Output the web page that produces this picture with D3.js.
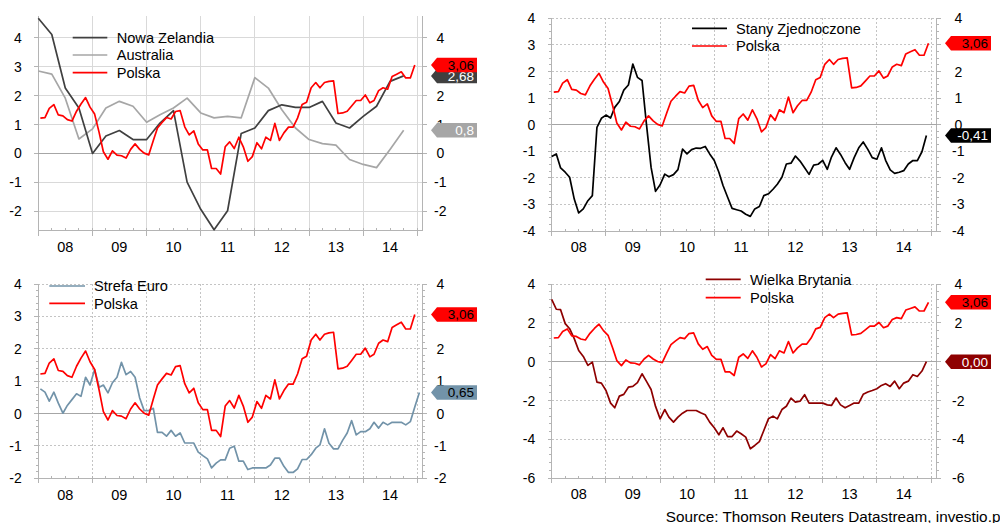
<!DOCTYPE html>
<html>
<head>
<meta charset="utf-8">
<script src="https://cdn.jsdelivr.net/npm/d3@7"></script>
<style>
  html, body { margin: 0; padding: 0; background: #fff; overflow: hidden; }
  svg { display: block; font-family: "Liberation Sans", Arial, sans-serif; }
</style>
</head>
<body>
<svg id="chart" width="1000" height="523"></svg>
<script>
// Year tick labels on every panel
const yearLabels = ["08", "09", "10", "11", "12", "13", "14"];

// Real interest rates, % (monthly, Jan 2008 – Dec 2014)
const polska = [
  1.22, 1.24, 1.56, 1.69, 1.33, 1.30, 1.17, 1.12, 1.46, 1.71, 1.93, 1.60,
  1.36, 0.71, 0.06, -0.20, 0.09, -0.06, -0.08, -0.16, 0.14, 0.33, 0.14, 0.01,
  -0.05, 0.45, 0.88, 1.07, 1.24, 1.19, 1.45, 1.48, 0.92, 0.64, 0.78, 0.33,
  0.12, 0.12, -0.52, -0.52, -0.71, 0.23, 0.40, 0.17, 0.56, 0.23, -0.27, -0.11,
  0.37, 0.16, 0.56, 0.45, 1.04, 0.45, 0.71, 0.91, 0.91, 1.22, 1.69, 1.77,
  2.27, 2.45, 2.27, 2.45, 2.49, 2.51, 1.38, 1.40, 1.46, 1.64, 1.83, 1.83,
  2.02, 1.75, 1.83, 2.17, 2.27, 2.22, 2.66, 2.74, 2.82, 2.61, 2.61, 3.06
];

// Quarterly series (Q1 2008 – Q4 2014)
const nowaZelandia = [
  4.67, 4.11, 2.26, 1.57, 0.00, 0.60, 0.79, 0.48, 0.48, 1.05, 1.48, -0.99,
  -1.93, -2.64, -1.98, 0.69, 0.88, 1.48, 1.68, 1.59, 1.59, 1.80, 1.05, 0.88,
  1.28, 1.63, 2.49, 2.68
];
const australia = [
  2.85, 2.74, 1.91, 0.50, 0.85, 1.57, 1.80, 1.63, 1.08, 1.34, 1.57, 1.91,
  1.40, 1.23, 1.28, 1.23, 2.62, 2.26, 1.51, 0.88, 0.48, 0.34, 0.29, -0.21,
  -0.38, -0.49, 0.14, 0.80
];

// Monthly series
const stanyZjednoczone = [
  -1.20, -1.10, -1.63, -1.79, -1.98, -2.80, -3.32, -3.17, -2.86, -2.67, -0.10, 0.24,
  0.36, 0.25, 0.65, 0.87, 1.30, 1.49, 2.28, 1.78, 1.66, 0.00, -1.61, -2.51,
  -2.26, -1.86, -1.96, -1.88, -1.69, -0.92, -1.10, -0.94, -0.88, -0.89, -0.82, -1.10,
  -1.35, -1.79, -2.29, -2.73, -3.15, -3.20, -3.25, -3.37, -3.45, -3.17, -3.08, -2.67,
  -2.60, -2.43, -2.24, -1.98, -1.48, -1.45, -1.18, -1.37, -1.62, -1.87, -1.52, -1.49,
  -1.34, -1.68, -1.22, -0.87, -1.12, -1.43, -1.68, -1.24, -0.87, -0.65, -0.93, -1.24,
  -1.30, -0.87, -1.34, -1.70, -1.83, -1.79, -1.73, -1.48, -1.35, -1.35, -1.02, -0.41
];
const strefaEuro = [
  0.76, 0.66, 0.38, 0.66, 0.32, 0.01, 0.25, 0.43, 0.61, 0.53, 1.12, 0.88,
  1.36, 0.81, 0.88, 0.64, 0.95, 1.12, 1.58, 1.20, 1.30, 1.12, 0.48, 0.09,
  0.09, 0.16, -0.58, -0.58, -0.70, -0.52, -0.70, -0.60, -0.91, -0.91, -0.91, -1.19,
  -1.30, -1.40, -1.68, -1.53, -1.43, -1.43, -1.07, -1.01, -1.47, -1.47, -1.73, -1.68,
  -1.68, -1.68, -1.68, -1.59, -1.38, -1.38, -1.63, -1.82, -1.82, -1.71, -1.42, -1.42,
  -1.27, -1.07, -0.97, -0.47, -0.92, -1.09, -1.09, -0.83, -0.60, -0.22, -0.66, -0.56,
  -0.56, -0.47, -0.27, -0.45, -0.27, -0.35, -0.27, -0.27, -0.27, -0.35, -0.25, 0.20,
  0.65
];
const wielkaBrytania = [
  3.21, 2.70, 2.68, 1.96, 1.70, 1.19, 0.58, 0.27, -0.19, -0.02, -1.05, -1.10,
  -1.48, -2.13, -2.37, -1.77, -1.68, -1.31, -1.27, -1.08, -0.62, -1.01, -1.43, -2.30,
  -2.94, -2.46, -2.85, -3.11, -2.85, -2.65, -2.51, -2.51, -2.51, -2.63, -2.73, -3.11,
  -3.40, -3.76, -3.40, -3.85, -3.85, -3.57, -3.71, -3.88, -4.48, -4.31, -4.11, -3.54,
  -2.94, -2.80, -2.94, -2.46, -2.29, -1.87, -2.08, -2.03, -1.70, -2.13, -2.13, -2.13,
  -2.13, -2.22, -2.25, -1.87, -2.22, -2.37, -2.25, -2.13, -2.13, -1.68, -1.56, -1.48,
  -1.39, -1.22, -1.13, -1.27, -1.00, -1.39, -1.10, -1.00, -0.67, -0.76, -0.48, 0.00
];

const sourceText = "Source: Thomson Reuters Datastream, investio.pl";

// ---- observation dates ----
const monthly = (n, day) => d3.range(n).map(i => new Date(2008, i, day));
const quarterly = n => d3.range(n).map(i => new Date(2008, 3 * i, 1));

const S = {
  pl: { name: "Polska", values: polska, dates: monthly(polska.length, 15), color: "#ff0000", text: "#000", dec: 2 },
  nz: { name: "Nowa Zelandia", values: nowaZelandia, dates: quarterly(nowaZelandia.length), color: "#404040", text: "#fff", dec: 2 },
  au: { name: "Australia", values: australia, dates: quarterly(australia.length), color: "#a6a6a6", text: "#fff", dec: 1 },
  us: { name: "Stany Zjednoczone", values: stanyZjednoczone, dates: monthly(stanyZjednoczone.length, 1), color: "#000000", text: "#fff", dec: 2 },
  eu: { name: "Strefa Euro", values: strefaEuro, dates: monthly(strefaEuro.length, 15), color: "#7293a9", text: "#000", dec: 2 },
  uk: { name: "Wielka Brytania", values: wielkaBrytania, dates: monthly(wielkaBrytania.length, 1), color: "#8e0000", text: "#fff", dec: 2 }
};

// ---- panel layout ----
const panels = [
  { x0: 38.3, x1: 417.3, xr: 422.7, yTop: 16, yBot: 230.7, dom: [-2.67, 4.75], ticks: d3.range(-2, 5, 1),
    minor: 0, dotted: false, rLabelX: 440.3, xLabelY: 246.7,
    legend: { x1: 72.7, x2: 107.3, tx: 116.7, rows: [37.7, 55, 72.7], items: ["nz", "au", "pl"] },
    lines: ["au", "nz", "pl"], tags: ["au", "nz", "pl"] },
  { x0: 551.7, x1: 931, xr: 936.7, yTop: 18.3, yBot: 231, dom: [-4, 4], ticks: d3.range(-4, 5, 1),
    minor: 0.25, dotted: true, rLabelX: 958.3, xLabelY: 246.7,
    legend: { x1: 692, x2: 727, tx: 736, rows: [28.3, 46], items: ["us", "pl"] },
    lines: ["us", "pl"], tags: ["us", "pl"] },
  { x0: 38.3, x1: 417.3, xr: 422.7, yTop: 284, yBot: 478.3, dom: [-2, 4], ticks: d3.range(-2, 5, 1),
    minor: 0.2, dotted: true, rLabelX: 440.3, xLabelY: 495,
    legend: { x1: 49.3, x2: 85, tx: 94, rows: [286, 303.3], items: ["eu", "pl"] },
    lines: ["eu", "pl"], tags: ["eu", "pl"] },
  { x0: 551.7, x1: 931, xr: 936.7, yTop: 284, yBot: 478.3, dom: [-6, 4], ticks: d3.range(-6, 5, 2),
    minor: 0.4, dotted: true, rLabelX: 958.3, xLabelY: 494,
    legend: { x1: 705.7, x2: 740.7, tx: 750, rows: [279.3, 297.7], items: ["uk", "pl"] },
    lines: ["uk", "pl"], tags: ["uk", "pl"] }
];

const svg = d3.select("#chart");
const fmt = (v, dec) => d3.format("." + dec + "f")(v).replace(".", ",").replace("−", "-");

panels.forEach(p => {
  const g = svg.append("g");
  const x = d3.scaleTime().domain([new Date(2008, 0, 1), new Date(2015, 0, 1)]).range([p.x0, p.x1]);
  const y = d3.scaleLinear().domain(p.dom).range([p.yBot, p.yTop]);
  const years = d3.range(2009, 2016).map(yr => new Date(yr, 0, 1));
  const quarters = d3.timeMonth.range(new Date(2008, 0, 1), new Date(2015, 1, 1), 3);
  const gridColor = p.dotted ? "#c4c4c4" : "#d9d9d9";
  const dash = p.dotted ? "2,2" : null;

  // gridlines
  const grid = g.append("g").attr("shape-rendering", "crispEdges");
  grid.selectAll(".h").data(p.ticks.filter(t => t !== 0)).join("line")
    .attr("x1", p.x0).attr("x2", p.xr).attr("y1", d => y(d)).attr("y2", d => y(d))
    .attr("stroke", gridColor).attr("stroke-dasharray", dash);
  grid.selectAll(".v").data(years).join("line")
    .attr("x1", d => x(d)).attr("x2", d => x(d)).attr("y1", p.yTop).attr("y2", p.yBot)
    .attr("stroke", gridColor).attr("stroke-dasharray", dash);

  // axes frame
  const ax = g.append("g").attr("stroke", "#b4b4b4").attr("shape-rendering", "crispEdges");
  ax.append("line").attr("x1", p.x0).attr("x2", p.x0).attr("y1", p.yTop).attr("y2", p.yBot);
  ax.append("line").attr("x1", p.xr).attr("x2", p.xr).attr("y1", p.yTop).attr("y2", p.yBot);
  ax.append("line").attr("x1", p.x0).attr("x2", p.xr).attr("y1", p.yBot).attr("y2", p.yBot);
  // zero line
  g.append("line").attr("x1", p.x0).attr("x2", p.xr).attr("y1", y(0)).attr("y2", y(0))
    .attr("stroke", "#a6a6a6").attr("shape-rendering", "crispEdges");

  // y ticks (major + minor) on both sides
  const majors = p.ticks;
  const minors = p.minor ? d3.range(p.dom[0], p.dom[1] + 1e-9, p.minor) : [];
  ax.selectAll(".lt").data(majors).join("line")
    .attr("x1", p.x0 - 4).attr("x2", p.x0).attr("y1", d => y(d)).attr("y2", d => y(d));
  ax.selectAll(".rt").data(majors).join("line")
    .attr("x1", p.xr).attr("x2", p.xr + 4).attr("y1", d => y(d)).attr("y2", d => y(d));
  ax.selectAll(".lm").data(minors).join("line")
    .attr("x1", p.x0 - 2.5).attr("x2", p.x0).attr("y1", d => y(d)).attr("y2", d => y(d));
  ax.selectAll(".rm").data(minors).join("line")
    .attr("x1", p.xr).attr("x2", p.xr + 2.5).attr("y1", d => y(d)).attr("y2", d => y(d));

  // x ticks: years down, quarters up
  ax.selectAll(".xt").data([new Date(2008, 0, 1)].concat(years)).join("line")
    .attr("x1", d => x(d)).attr("x2", d => x(d)).attr("y1", p.yBot).attr("y2", p.yBot + 5);
  ax.selectAll(".xq").data(quarters).join("line")
    .attr("x1", d => x(d)).attr("x2", d => x(d)).attr("y1", p.yBot - 2.5).attr("y2", p.yBot);

  // tick labels
  const lab = g.append("g").attr("fill", "#000").attr("font-size", "14px");
  lab.selectAll(".ly").data(majors).join("text")
    .attr("x", p.x0 - 16.5).attr("y", d => y(d)).attr("dy", "0.36em").attr("text-anchor", "end")
    .text(d => d3.format("d")(d).replace("−", "-"));
  lab.selectAll(".ry").data(majors).join("text")
    .attr("x", p.rLabelX).attr("y", d => y(d)).attr("dy", "0.36em").attr("text-anchor", "middle")
    .text(d => d3.format("d")(d).replace("−", "-"));
  lab.selectAll(".xl").data(yearLabels).join("text")
    .attr("x", (d, i) => x(new Date(2008 + i, 6, 1))).attr("y", p.xLabelY).attr("dy", "0.36em")
    .attr("text-anchor", "middle").attr("font-size", "14.5px").text(d => d);

  // series
  const line = d3.line().x(d => x(d[0])).y(d => y(d[1]));
  p.lines.forEach(k => {
    const s = S[k];
    g.append("path").datum(s.dates.map((d, i) => [d, s.values[i]]))
      .attr("d", line).attr("fill", "none").attr("stroke", s.color)
      .attr("stroke-width", 1.7).attr("stroke-linejoin", "round");
  });

  // legend
  const lg = g.append("g");
  p.legend.items.forEach((k, i) => {
    const yy = p.legend.rows[i];
    lg.append("line").attr("x1", p.legend.x1).attr("x2", p.legend.x2).attr("y1", yy).attr("y2", yy)
      .attr("stroke", S[k].color).attr("stroke-width", 1.7);
    lg.append("text").attr("x", p.legend.tx).attr("y", yy).attr("dy", "0.36em")
      .attr("font-size", "14.6px").attr("fill", "#000").text(S[k].name);
  });

  // end-value tags on the right axis
  const tip = p.xr + 8.3, w = 46, h = 14.5, notch = 6;
  p.tags.forEach(k => {
    const s = S[k];
    const v = s.values[s.values.length - 1];
    const cy = y(v);
    const tg = g.append("g");
    tg.append("path")
      .attr("d", `M${tip},${cy} L${tip + notch},${cy - h / 2} H${tip + w} V${cy + h / 2} H${tip + notch} Z`)
      .attr("fill", s.color);
    tg.append("text").attr("x", tip + w - 3).attr("y", cy).attr("dy", "0.36em")
      .attr("text-anchor", "end").attr("font-size", "13.5px").attr("fill", s.text)
      .text(fmt(v, s.dec));
  });
});

svg.append("text").attr("x", 665.7).attr("y", 521.8).attr("font-size", "15.3px").attr("fill", "#000")
  .text(sourceText);
</script>
</body>
</html>
